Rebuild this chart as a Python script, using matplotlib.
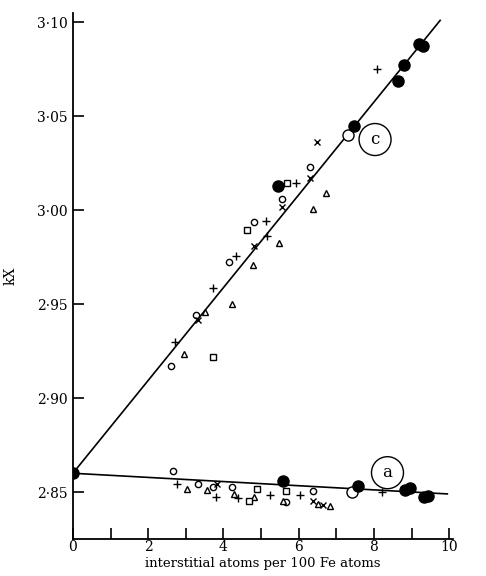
import matplotlib.pyplot as plt
from matplotlib.ticker import FixedLocator, FuncFormatter

plt.rcParams['font.family'] = ['DejaVu Serif']

# origin point (pure iron)
x0, y0 = 0.0, 2.860

# curve c (upper line) data by marker
c_open_x = [6.29, 5.55, 4.81, 4.15, 3.27, 2.62]
c_open_y = [3.023, 3.0057, 2.9938, 2.9725, 2.9441, 2.9172]
c_plus_x = [5.92, 5.13, 5.15, 4.33, 3.71, 2.71, 8.09]
c_plus_y = [3.0142, 2.9941, 2.9865, 2.9757, 2.9587, 2.9296, 3.075]
c_cross_x = [6.29, 5.57, 4.82, 3.32, 6.48]
c_cross_y = [3.0169, 3.0018, 2.9809, 2.9415, 3.0363]
c_tri_x = [6.73, 6.37, 5.49, 4.78, 4.22, 3.51, 2.96]
c_tri_y = [3.0089, 3.0004, 2.9823, 2.9707, 2.950, 2.9459, 2.9234]
c_sq_x = [5.68, 4.62, 3.72]
c_sq_y = [3.0145, 2.9897, 2.922]
c_fill_x = [5.46, 7.46, 8.65, 8.80, 9.20, 9.30]
c_fill_y = [3.0128, 3.0447, 3.0686, 3.0775, 3.0885, 3.0875]
c_big_x = [7.30]
c_big_y = [3.0399]

# curve a (lower line) data by marker
a_open_x = [2.67, 3.33, 3.72, 4.24, 5.66, 6.39]
a_open_y = [2.8613, 2.8541, 2.8528, 2.8528, 2.8447, 2.8507]
a_plus_x = [2.77, 3.80, 4.38, 5.24, 6.04, 8.21]
a_plus_y = [2.8543, 2.8472, 2.8466, 2.8484, 2.8484, 2.8502]
a_cross_x = [3.82, 6.39, 6.64]
a_cross_y = [2.8543, 2.8454, 2.8431]
a_tri_x = [3.02, 3.56, 4.29, 4.81, 5.58, 6.52, 6.82]
a_tri_y = [2.8516, 2.8511, 2.8489, 2.8475, 2.8454, 2.8435, 2.8426]
a_sq_x = [4.68, 4.90, 5.66]
a_sq_y = [2.8454, 2.8514, 2.8507]
a_fill_x = [5.58, 7.57, 8.83, 8.96, 9.34, 9.45]
a_fill_y = [2.856, 2.8534, 2.8511, 2.852, 2.8472, 2.8479]
a_big_x = [7.41]
a_big_y = [2.8502]

# fitted lines
line_c_x = [0.0, 9.76]
line_c_y = [2.860, 3.101]
line_a_x = [0.0, 9.95]
line_a_y = [2.860, 2.849]

fig = plt.figure(figsize=(4.86, 5.76), dpi=100)
ax = fig.add_axes([0.150, 0.0642, 0.782, 0.9128])

ax.plot(line_c_x, line_c_y, color='black', lw=1.2, zorder=1)
ax.plot(line_a_x, line_a_y, color='black', lw=1.2, zorder=1)

def markers(xs, ys, m, ms, filled=False, mew=1.0):
    ax.plot(xs, ys, linestyle='none', marker=m, ms=ms, mew=mew,
            mec='black', mfc='black' if filled else 'white', zorder=3)

for grp in [(c_open_x, c_open_y), (a_open_x, a_open_y)]:
    markers(grp[0], grp[1], 'o', 4.5)
for grp in [(c_plus_x, c_plus_y), (a_plus_x, a_plus_y)]:
    markers(grp[0], grp[1], '+', 5.5)
for grp in [(c_cross_x, c_cross_y), (a_cross_x, a_cross_y)]:
    markers(grp[0], grp[1], 'x', 4.5)
for grp in [(c_tri_x, c_tri_y), (a_tri_x, a_tri_y)]:
    markers(grp[0], grp[1], '^', 5)
for grp in [(c_sq_x, c_sq_y), (a_sq_x, a_sq_y)]:
    markers(grp[0], grp[1], 's', 4.2)
for grp in [(c_big_x, c_big_y), (a_big_x, a_big_y)]:
    markers(grp[0], grp[1], 'o', 8)
for grp in [(c_fill_x, c_fill_y), (a_fill_x, a_fill_y)]:
    markers(grp[0], grp[1], 'o', 8, filled=True)
markers([x0], [y0], 'o', 8, filled=True)

# curve labels
for lbl, lx, ly in [('c', 8.03, 3.0376), ('a', 8.36, 2.8603)]:
    ax.text(lx, ly, lbl, ha='center', va='center', fontsize=12,
            bbox=dict(boxstyle='circle,pad=0.45', fc='white', ec='black', lw=1.0))

ax.set_xlim(0, 10.1)
ax.set_ylim(2.825, 3.1048)
ax.spines['top'].set_visible(False)
ax.spines['right'].set_visible(False)
ax.spines['left'].set_linewidth(1.3)
ax.spines['bottom'].set_linewidth(1.3)

ax.xaxis.set_major_locator(FixedLocator(range(0, 11)))
ax.xaxis.set_major_formatter(FuncFormatter(lambda v, p: f'{int(v)}' if int(v) % 2 == 0 else ''))
ax.yaxis.set_major_locator(FixedLocator([2.85, 2.90, 2.95, 3.00, 3.05, 3.10]))
ax.yaxis.set_major_formatter(FuncFormatter(lambda v, p: f'{v:.2f}'.replace('.', '\u00b7')))
ax.tick_params(direction='in', length=8, width=1.2, labelsize=10)
ax.tick_params(axis='x', pad=1)

ax.set_xlabel('interstitial atoms per 100 Fe atoms', fontsize=9.5, labelpad=2)
ax.set_ylabel('kX', fontsize=10, labelpad=14)

fig.savefig('out.png', dpi=100)
